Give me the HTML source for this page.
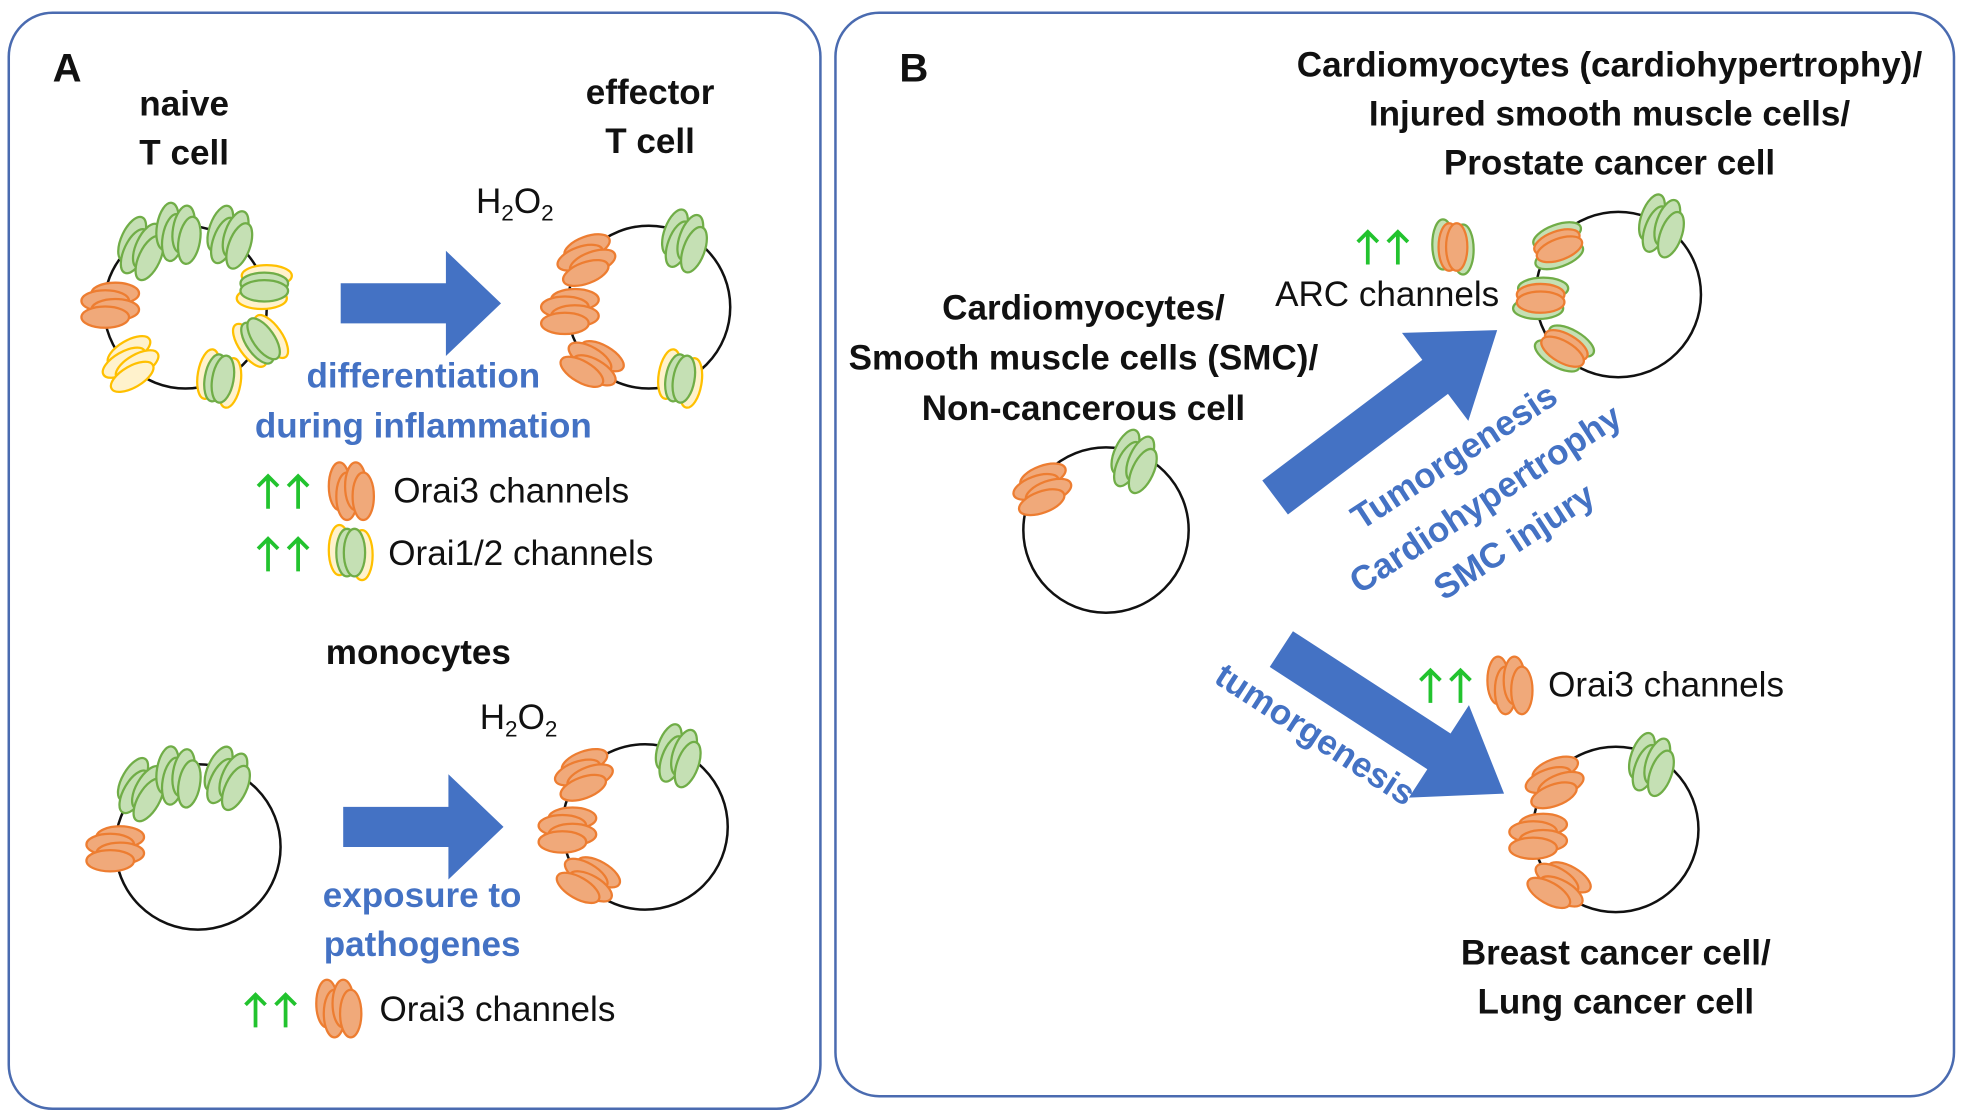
<!DOCTYPE html>
<html><head><meta charset="utf-8"><style>
html,body{margin:0;padding:0;background:#fff;}
svg{display:block;}
text{font-family:"Liberation Sans",sans-serif;}
.b{font-weight:bold;fill:#111;font-size:28px;}
.bl{font-weight:bold;fill:#4472C4;font-size:28px;}
.n{fill:#111;font-size:28px;}
</style></head><body>
<svg width="1964" height="1119" viewBox="0 0 1568 893" xmlns="http://www.w3.org/2000/svg">
<defs>
<g id="o"><ellipse cx="-9" cy="-4" rx="8.5" ry="19" fill="#F0A97A" stroke="#ED7D31" stroke-width="1.8"/><ellipse cx="-3" cy="4" rx="8.5" ry="19" fill="#F0A97A" stroke="#ED7D31" stroke-width="1.8"/><ellipse cx="4" cy="-4" rx="8.5" ry="19" fill="#F0A97A" stroke="#ED7D31" stroke-width="1.8"/><ellipse cx="10" cy="4" rx="8.5" ry="19" fill="#F0A97A" stroke="#ED7D31" stroke-width="1.8"/></g>
<g id="g"><ellipse cx="-9" cy="-4" rx="8.5" ry="19" fill="#C5E0B4" stroke="#70AD47" stroke-width="1.8"/><ellipse cx="-3" cy="4" rx="8.5" ry="19" fill="#C5E0B4" stroke="#70AD47" stroke-width="1.8"/><ellipse cx="4" cy="-4" rx="8.5" ry="19" fill="#C5E0B4" stroke="#70AD47" stroke-width="1.8"/><ellipse cx="10" cy="4" rx="8.5" ry="19" fill="#C5E0B4" stroke="#70AD47" stroke-width="1.8"/></g>
<g id="y"><ellipse cx="-9" cy="-4" rx="8.5" ry="19" fill="#FFF2CC" stroke="#FFC000" stroke-width="1.8"/><ellipse cx="-3" cy="4" rx="8.5" ry="19" fill="#FFF2CC" stroke="#FFC000" stroke-width="1.8"/><ellipse cx="4" cy="-4" rx="8.5" ry="19" fill="#FFF2CC" stroke="#FFC000" stroke-width="1.8"/><ellipse cx="10" cy="4" rx="8.5" ry="19" fill="#FFF2CC" stroke="#FFC000" stroke-width="1.8"/></g>
<g id="yg"><ellipse cx="-9" cy="-2" rx="8.5" ry="20" fill="#FFF2CC" stroke="#FFC000" stroke-width="1.8"/><ellipse cx="9" cy="2" rx="8.5" ry="20" fill="#FFF2CC" stroke="#FFC000" stroke-width="1.8"/><ellipse cx="-3" cy="0" rx="8.5" ry="19" fill="#C5E0B4" stroke="#70AD47" stroke-width="1.8"/><ellipse cx="3" cy="0" rx="8.5" ry="19" fill="#C5E0B4" stroke="#70AD47" stroke-width="1.8"/></g>
<g id="og"><ellipse cx="-8" cy="-2" rx="8.5" ry="20" fill="#C5E0B4" stroke="#70AD47" stroke-width="1.8"/><ellipse cx="8" cy="2" rx="8.5" ry="20" fill="#C5E0B4" stroke="#70AD47" stroke-width="1.8"/><ellipse cx="-3" cy="0" rx="8.5" ry="19" fill="#F0A97A" stroke="#ED7D31" stroke-width="1.8"/><ellipse cx="3" cy="0" rx="8.5" ry="19" fill="#F0A97A" stroke="#ED7D31" stroke-width="1.8"/></g>
<g id="up"><path d="M0 14 V-12 M-8 -4 L0 -12 L8 -4" stroke="#22C32E" stroke-width="3" fill="none"/><path d="M24 14 V-12 M16 -4 L24 -12 L32 -4" stroke="#22C32E" stroke-width="3" fill="none"/></g>
<polygon id="arr" points="0,-16 84,-16 84,-42 128,0 84,42 84,16 0,16" fill="#4472C4"/>
</defs>
<rect x="7" y="10" width="648" height="875" rx="35" fill="none" stroke="#4A6BB0" stroke-width="2"/>
<rect x="667" y="10" width="893" height="865" rx="35" fill="none" stroke="#4A6BB0" stroke-width="2"/>
<text x="42" y="65" font-weight="bold" font-size="32" fill="#111">A</text>
<text x="718" y="65" font-weight="bold" font-size="32" fill="#111">B</text>
<text class="b" x="147" y="92" text-anchor="middle">naive</text>
<text class="b" x="147" y="131" text-anchor="middle">T cell</text>
<text class="b" x="519" y="83" text-anchor="middle">effector</text>
<text class="b" x="519" y="122" text-anchor="middle">T cell</text>
<text class="n" x="380" y="170">H<tspan font-size="18" dy="6">2</tspan><tspan dy="-6">O</tspan><tspan font-size="18" dy="6">2</tspan></text>
<circle cx="148" cy="245" r="65" fill="none" stroke="#111" stroke-width="2"/>
<use href="#g" transform="translate(112,198) rotate(25)"/>
<use href="#g" transform="translate(142,186) rotate(10)"/>
<use href="#g" transform="translate(183,189) rotate(20)"/>
<use href="#yg" transform="translate(211,229) rotate(90)"/>
<use href="#o" transform="translate(88,243) rotate(90)"/>
<use href="#y" transform="translate(104,290) rotate(60)"/>
<use href="#yg" transform="translate(208,272) rotate(-35)"/>
<use href="#yg" transform="translate(175,302) rotate(10)"/>
<use href="#arr" transform="translate(272,242)"/>
<circle cx="518" cy="245" r="65" fill="none" stroke="#111" stroke-width="2"/>
<use href="#o" transform="translate(468,207) rotate(70)"/>
<use href="#o" transform="translate(455,248) rotate(90)"/>
<use href="#o" transform="translate(473,290) rotate(120)"/>
<use href="#g" transform="translate(546,192) rotate(20)"/>
<use href="#yg" transform="translate(543,302) rotate(10)"/>
<text class="bl" x="338" y="309" text-anchor="middle">differentiation</text>
<text class="bl" x="338" y="349" text-anchor="middle">during inflammation</text>
<use href="#up" transform="translate(214,392)"/>
<use href="#o" transform="translate(280,392)"/>
<text class="n" x="314" y="401">Orai3 channels</text>
<use href="#up" transform="translate(214,442)"/>
<use href="#yg" transform="translate(280,441)"/>
<text class="n" x="310" y="451">Orai1/2 channels</text>
<text class="b" x="334" y="530" text-anchor="middle">monocytes</text>
<text class="n" x="383" y="582">H<tspan font-size="18" dy="6">2</tspan><tspan dy="-6">O</tspan><tspan font-size="18" dy="6">2</tspan></text>
<circle cx="158" cy="676" r="66" fill="none" stroke="#111" stroke-width="2"/>
<use href="#g" transform="translate(112,630) rotate(30)"/>
<use href="#g" transform="translate(142,620) rotate(10)"/>
<use href="#g" transform="translate(181,621) rotate(25)"/>
<use href="#o" transform="translate(92,677) rotate(90)"/>
<use href="#arr" transform="translate(274,660)"/>
<circle cx="515" cy="660" r="66" fill="none" stroke="#111" stroke-width="2"/>
<use href="#o" transform="translate(466,618) rotate(70)"/>
<use href="#o" transform="translate(453,662) rotate(90)"/>
<use href="#o" transform="translate(470,702) rotate(120)"/>
<use href="#g" transform="translate(541,603) rotate(20)"/>
<text class="bl" x="337" y="724" text-anchor="middle">exposure to</text>
<text class="bl" x="337" y="763" text-anchor="middle">pathogenes</text>
<use href="#up" transform="translate(204,806)"/>
<use href="#o" transform="translate(270,805)"/>
<text class="n" x="303" y="815">Orai3 channels</text>
<text class="b" x="1285" y="61" text-anchor="middle">Cardiomyocytes (cardiohypertrophy)/</text>
<text class="b" x="1285" y="100" text-anchor="middle">Injured smooth muscle cells/</text>
<text class="b" x="1285" y="139" text-anchor="middle">Prostate cancer cell</text>
<text class="b" x="865" y="255" text-anchor="middle">Cardiomyocytes/</text>
<text class="b" x="865" y="295" text-anchor="middle">Smooth muscle cells (SMC)/</text>
<text class="b" x="865" y="335" text-anchor="middle">Non-cancerous cell</text>
<circle cx="883" cy="423" r="66" fill="none" stroke="#111" stroke-width="2"/>
<use href="#o" transform="translate(832,390) rotate(70)"/>
<use href="#g" transform="translate(905,368) rotate(25)"/>
<use href="#up" transform="translate(1092,197)"/>
<use href="#og" transform="translate(1160,197)"/>
<text class="n" x="1018" y="244">ARC channels</text>
<circle cx="1292" cy="235" r="66" fill="none" stroke="#111" stroke-width="2"/>
<use href="#og" transform="translate(1244,196) rotate(70)"/>
<use href="#og" transform="translate(1230,238) rotate(90)"/>
<use href="#og" transform="translate(1249,278) rotate(120)"/>
<use href="#g" transform="translate(1326,180) rotate(20)"/>
<polygon points="0,-17 160,-17 160,-44 222,0 160,44 160,17 0,17" fill="#4472C4" transform="translate(1018,397) rotate(-37)"/>
<text class="bl" transform="translate(1166,372) rotate(-33)" text-anchor="middle">Tumorgenesis</text>
<text class="bl" transform="translate(1191,406) rotate(-33)" text-anchor="middle">Cardiohypertrophy</text>
<text class="bl" transform="translate(1214,440) rotate(-33)" text-anchor="middle">SMC injury</text>
<polygon points="0,-17 150,-17 150,-44 212,0 150,44 150,17 0,17" fill="#4472C4" transform="translate(1023,518) rotate(33)"/>
<text class="bl" transform="translate(1045,594) rotate(33)" text-anchor="middle">tumorgenesis</text>
<use href="#up" transform="translate(1142,547)"/>
<use href="#o" transform="translate(1205,547)"/>
<text class="n" x="1236" y="556">Orai3 channels</text>
<circle cx="1290" cy="662" r="66" fill="none" stroke="#111" stroke-width="2"/>
<use href="#o" transform="translate(1241,624) rotate(70)"/>
<use href="#o" transform="translate(1228,667) rotate(90)"/>
<use href="#o" transform="translate(1245,706) rotate(120)"/>
<use href="#g" transform="translate(1318,610) rotate(20)"/>
<text class="b" x="1290" y="770" text-anchor="middle">Breast cancer cell/</text>
<text class="b" x="1290" y="809" text-anchor="middle">Lung cancer cell</text>
</svg>
</body></html>
